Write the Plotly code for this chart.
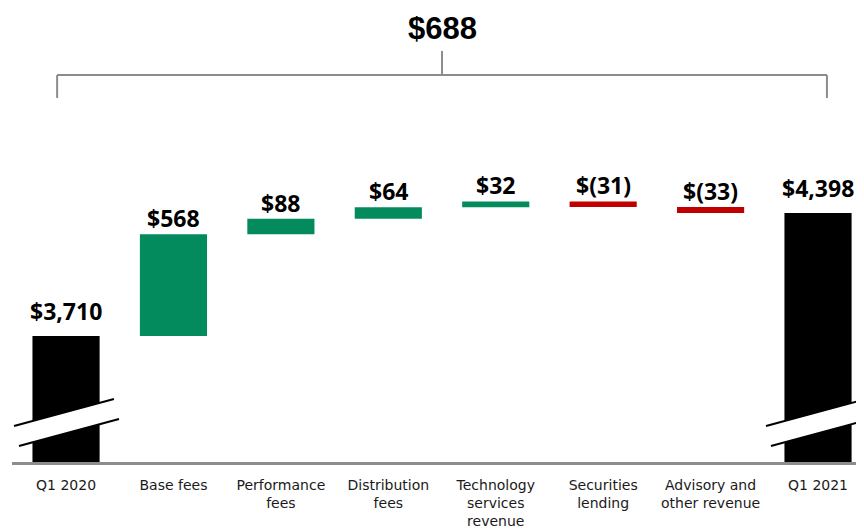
import plotly.graph_objects as go

categories = ["Q1 2020", "Base fees", "Performance<br>fees", "Distribution<br>fees",
              "Technology<br>services<br>revenue", "Securities<br>lending",
              "Advisory and<br>other revenue", "Q1 2021"]
start_value = 3710
changes = [568, 88, 64, 32, -31, -33]
end_value = 4398
value_labels = ["$3,710", "$568", "$88", "$64", "$32", "$(31)", "$(33)", "$4,398"]
total_change_label = "$688"

GREEN = "#038B5D"
RED = "#C00000"
BLACK = "#000000"
GRAY = "#8C8C8C"

# build waterfall geometry
bases, heights, colors, tops, is_total = [], [], [], [], []
bases.append(0); heights.append(start_value); colors.append(BLACK); tops.append(start_value); is_total.append(True)
running = start_value
for c in changes:
    if c >= 0:
        bases.append(running); heights.append(c); colors.append(GREEN)
        tops.append(running + c)
    else:
        bases.append(running + c); heights.append(-c); colors.append(RED)
        tops.append(running)
    is_total.append(False)
    running += c
bases.append(0); heights.append(end_value); colors.append(BLACK); tops.append(end_value); is_total.append(True)

xs = list(range(len(categories)))

fig = go.Figure()
fig.add_trace(go.Bar(x=xs, y=heights, base=bases, marker=dict(color=colors, line=dict(width=0)),
                     width=0.625, hoverinfo="skip"))

for x, top, lab, tot in zip(xs, tops, value_labels, is_total):
    fig.add_annotation(x=x, y=top, xref="x", yref="y", text=lab, showarrow=False,
                       yanchor="bottom", yshift=7 if tot else -2,
                       font=dict(family="Open Sans", size=23, color="#000000", weight="bold"))

y_min, y_max = 3005, 5544
fig.update_layout(
    width=856, height=521,
    margin=dict(l=4, r=0, t=0, b=67, autoexpand=False),
    paper_bgcolor="white", plot_bgcolor="white",
    showlegend=False,
    xaxis=dict(range=[-0.503, 7.428], tickvals=xs, ticktext=categories,
               showgrid=False, zeroline=False, showline=True, linecolor=GRAY, linewidth=3,
               ticks="", ticklabelstandoff=8, automargin=False,
               tickfont=dict(family="DejaVu Sans", size=14, color="#1A1A1A")),
    yaxis=dict(range=[y_min, y_max], visible=False, showgrid=False, automargin=False),
)

# broken-axis marks on the two total bars (relative to bar center)
for xc in (0, len(categories) - 1):
    up = [(xc - 0.484, 3206), (xc + 0.446, 3357)]
    lo = [(xc - 0.438, 3095), (xc + 0.493, 3246)]
    path = (f"M {up[0][0]},{up[0][1]} L {up[1][0]},{up[1][1]} "
            f"L {lo[1][0]},{lo[1][1]} L {lo[0][0]},{lo[0][1]} Z")
    fig.add_shape(type="path", path=path, xref="x", yref="y", fillcolor="white",
                  line=dict(width=0), layer="above")
    for seg in (up, lo):
        fig.add_shape(type="line", x0=seg[0][0], y0=seg[0][1], x1=seg[1][0], y1=seg[1][1],
                      xref="x", yref="y", line=dict(color="black", width=2), layer="above")

# bracket showing total change
bx0, bx1 = -0.083, len(categories) - 1 + 0.083
bmid = (len(categories) - 1) / 2
by, by_low, by_stem = 5169, 5041, 5304
gline = dict(color=GRAY, width=2)
fig.add_shape(type="line", x0=bx0, x1=bx1, y0=by, y1=by, xref="x", yref="y", line=gline)
fig.add_shape(type="line", x0=bx0, x1=bx0, y0=by, y1=by_low, xref="x", yref="y", line=gline)
fig.add_shape(type="line", x0=bx1, x1=bx1, y0=by, y1=by_low, xref="x", yref="y", line=gline)
fig.add_shape(type="line", x0=bmid, x1=bmid, y0=by, y1=by_stem, xref="x", yref="y", line=gline)
fig.add_annotation(x=bmid, y=5428, xref="x", yref="y", text=total_change_label, showarrow=False,
                   font=dict(family="Liberation Sans Narrow, Arial Narrow, Liberation Sans", size=31,
                             color="#000000", weight="bold"))

fig.write_html("out.html")
